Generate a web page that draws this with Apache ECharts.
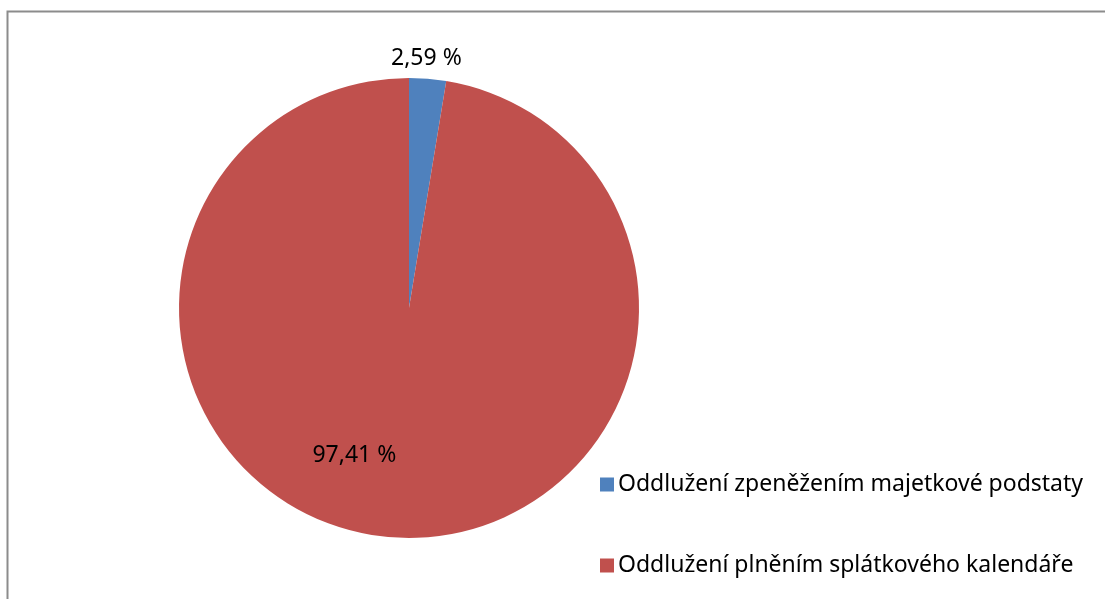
<!DOCTYPE html>
<html><head><meta charset="utf-8">
<script src="https://cdn.jsdelivr.net/npm/echarts@6/dist/echarts.min.js"></script>
<style>html,body{margin:0;padding:0;background:#fff}#c{width:1105px;height:599px}</style>
</head><body><div id="c"></div>
<script>
const categories = ["Oddlužení zpeněžením majetkové podstaty", "Oddlužení plněním splátkového kalendáře"];
const values = [2.59, 97.41];
const colors = ["#4F81BD", "#C0504D"];
const FONT = "Noto Sans";

const chart = echarts.init(document.getElementById('c'), null, {renderer: 'canvas'});
chart.setOption({
  animation: false,
  backgroundColor: '#fff',
  graphic: [{
    type: 'rect', shape: {x: 7.5, y: 11.5, width: 1200, height: 700},
    style: {fill: 'none', stroke: '#8c8c8c', lineWidth: 2}
  }],
  legend: {
    orient: 'vertical', left: 595, top: 468, itemGap: 58, itemWidth: 14, itemHeight: 14, icon: 'rect',
    textStyle: {fontFamily: FONT, fontSize: 23, color: '#000', padding: [0,0,0,-1]},
    data: categories
  },
  series: [{
    type: 'pie', center: [409, 308], radius: 230, startAngle: 90, clockwise: true,
    silent: true,
    data: categories.map((n, i) => ({
      name: n, value: values[i], itemStyle: {color: colors[i]},
      label: i === 0
        ? {position: 'outside', offset: [-42, -16]}
        : {position: 'inside', offset: [-45, 30]}
    })),
    itemStyle: {borderWidth: 0},
    label: {
      fontFamily: FONT, fontSize: 23, color: '#000',
      formatter: p => p.value.toFixed(2).replace('.', ',') + ' %'
    },
    labelLine: {show: false, length: 4, length2: 0}
  }]
});
</script></body></html>
